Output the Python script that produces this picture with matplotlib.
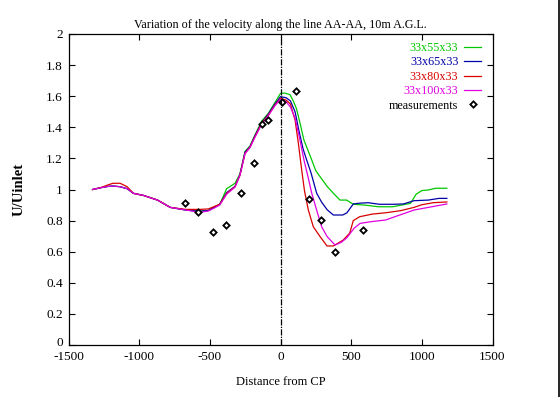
import numpy as np
import matplotlib.pyplot as plt
import matplotlib.transforms as mtransforms
from matplotlib.lines import Line2D

plt.rcParams['font.family'] = ['Liberation Serif', 'DejaVu Serif']
plt.rcParams['axes.unicode_minus'] = False

# shared left part of the profiles (x up to CP)
x_left = [-1330, -1270, -1220, -1185, -1135, -1085, -1040, -970, -870, -780, -670, -570,
          -510, -470, -430, -381, -322, -287, -251, -216, -181, -133, -86, -39, 0]

red_left = [1.0, 1.012, 1.03, 1.04, 1.04, 1.018, 0.975, 0.962, 0.932, 0.885, 0.872, 0.872,
            0.875, 0.89, 0.905, 0.975, 1.018, 1.093, 1.233, 1.271, 1.34, 1.426, 1.479, 1.543, 1.586]
mag_left = [1.0, 1.012, 1.02, 1.022, 1.018, 1.005, 0.975, 0.962, 0.932, 0.885, 0.868, 0.853,
            0.862, 0.88, 0.9, 0.97, 1.015, 1.09, 1.23, 1.27, 1.335, 1.42, 1.475, 1.54, 1.582]
blue_left = [1.0, 1.012, 1.02, 1.022, 1.018, 1.005, 0.975, 0.962, 0.932, 0.885, 0.868, 0.86,
             0.865, 0.885, 0.905, 0.98, 1.02, 1.095, 1.24, 1.275, 1.345, 1.43, 1.485, 1.55, 1.597]
green_left = [1.0, 1.012, 1.02, 1.022, 1.018, 1.005, 0.975, 0.962, 0.932, 0.885, 0.868, 0.86,
              0.865, 0.885, 0.905, 1.005, 1.04, 1.10, 1.245, 1.28, 1.35, 1.44, 1.49, 1.56, 1.618]

# right part (downstream of CP)
green_xr = [30, 67, 90, 113, 140, 165, 195, 221, 250, 290, 330, 374, 421, 468, 515, 592, 693,
            794, 920, 960, 1000, 1046, 1097, 1177]
green_yr = [1.62, 1.61, 1.57, 1.52, 1.42, 1.32, 1.25, 1.19, 1.12, 1.07, 1.02, 0.976, 0.932,
            0.932, 0.905, 0.9, 0.889, 0.889, 0.911, 0.97, 0.993, 0.997, 1.008, 1.008]

blue_xr = [40, 70, 103, 130, 160, 185, 215, 256, 290, 330, 374, 440, 470, 515, 560, 620, 700,
           800, 870, 945, 1046, 1122, 1177]
blue_yr = [1.59, 1.57, 1.50, 1.38, 1.26, 1.19, 1.11, 0.976, 0.92, 0.87, 0.836, 0.836, 0.85,
           0.907, 0.912, 0.915, 0.905, 0.905, 0.907, 0.928, 0.932, 0.943, 0.943]

red_xr = [40, 70, 103, 126, 150, 170, 197, 232, 280, 329, 374, 444, 490, 515, 560, 650, 750,
          850, 945, 1000, 1080, 1177]
red_yr = [1.575, 1.55, 1.447, 1.30, 1.125, 0.99, 0.868, 0.761, 0.697, 0.637, 0.637, 0.675,
          0.72, 0.80, 0.825, 0.842, 0.851, 0.864, 0.885, 0.902, 0.915, 0.920]

mag_xr = [40, 70, 103, 135, 166, 195, 221, 255, 291, 330, 386, 430, 470, 520, 563, 640, 744,
          844, 945, 1046, 1177]
mag_yr = [1.565, 1.53, 1.46, 1.33, 1.19, 1.08, 0.976, 0.87, 0.761, 0.697, 0.643, 0.66, 0.69,
          0.75, 0.782, 0.793, 0.804, 0.836, 0.868, 0.885, 0.907]

# measurements
meas_x = [-676, -585, -481, -386, -277, -184, -134, -86, 8, 111, 204, 287, 386, 582]
meas_y = [0.913, 0.853, 0.729, 0.772, 0.980, 1.170, 1.423, 1.447, 1.565, 1.636, 0.941,
          0.806, 0.600, 0.742]

fig = plt.figure(figsize=(5.6, 3.97), dpi=100)
ax = fig.add_axes([68.5 / 560, 52 / 397, 424 / 560, 311 / 397])

ax.plot(x_left + green_xr, green_left + green_yr, color='#00c800', lw=0.9, label='33x55x33')
ax.plot(x_left + blue_xr, blue_left + blue_yr, color='#0000a8', lw=0.9, label='33x65x33')
ax.plot(x_left + red_xr, red_left + red_yr, color='#d80000', lw=0.9, label='33x80x33')
ax.plot(x_left + mag_xr, mag_left + mag_yr, color='#e000e0', lw=0.9, label='33x100x33')
ax.plot(meas_x, meas_y, 'D', ms=3.2, mfc='white', mec='black', mew=1.3, ls='none',
        label='measurements')

# vertical line at CP
ax.axvline(0, color='black', lw=0.9, ls=(0, (5, 1, 1, 1)))

ax.set_xlim(-1500, 1500)
ax.set_ylim(0, 2)
ax.set_xticks([-1500, -1000, -500, 0, 500, 1000, 1500])
ax.set_yticks(np.arange(0, 2.01, 0.2))
ax.set_yticklabels(['0', '0.2', '0.4', '0.6', '0.8', '1', '1.2', '1.4', '1.6', '1.8', '2'])
ax.tick_params(direction='in', length=4, width=0.8, top=True, right=True, labelsize=9.5,
               pad=4)
for s in ax.spines.values():
    s.set_linewidth(0.9)

# nudge the "0" label up a bit so it sits on top of "-1500"
lab0 = ax.get_yticklabels()[0]
lab0.set_transform(lab0.get_transform() +
                   mtransforms.ScaledTranslation(0, 4 / 100, fig.dpi_scale_trans))

ax.set_title('Variation of the velocity along the line AA-AA, 10m A.G.L.', fontsize=8.7, pad=4)
ax.set_xlabel('Distance from CP', fontsize=9, labelpad=10)
ax.set_ylabel('U/Uinlet', fontsize=10.5, fontweight='bold', labelpad=15)

leg = ax.legend(loc='upper right', bbox_to_anchor=(0.985, 0.99), frameon=False,
                markerfirst=False, fontsize=8.7, handlelength=1.45, handletextpad=0.45,
                labelspacing=0.2, borderaxespad=0,
                labelcolor=['#00c800', '#0000a8', '#d80000', '#e000e0', 'black'])

fig.add_artist(Line2D([0.9985, 0.9985], [0, 1], color='black', lw=1.2))

fig.savefig('out.png', dpi=100)
